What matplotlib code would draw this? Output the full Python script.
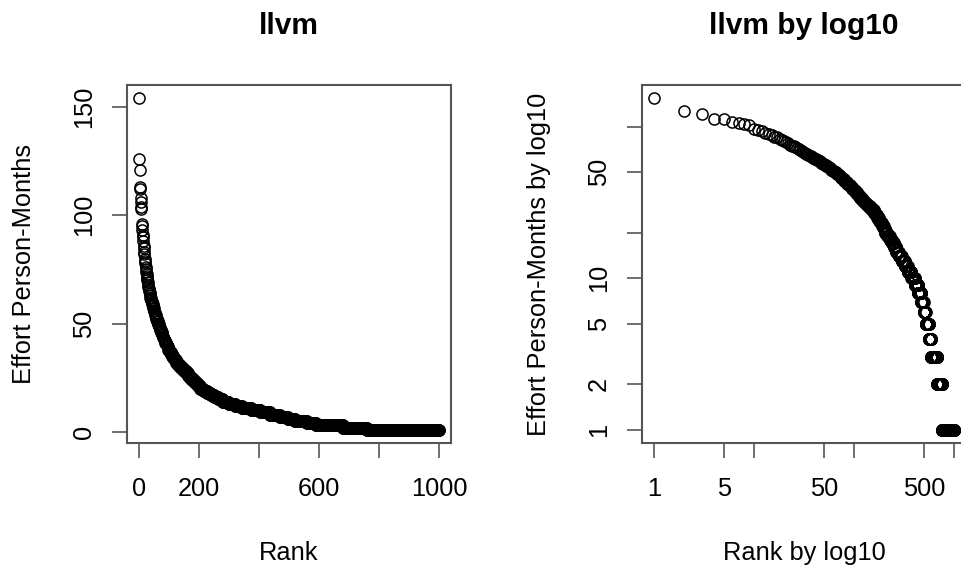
import numpy as np
import matplotlib
matplotlib.use("Agg")
import matplotlib.pyplot as plt

plt.rcParams['font.family'] = ['Liberation Sans', 'DejaVu Sans']

# effort values (person-months), descending, stored as value / how many projects have it
effort_values = [154, 126, 121, 113, 112, 108, 106, 104, 103,
                 96, 95, 93, 91, 90,
                 88, 86, 85, 83, 82,
                 80, 79, 78, 76, 75, 74, 73, 72, 71, 70,
                 69, 68, 67, 66, 65, 64, 63, 62, 61, 60, 59,
                 58, 57, 56, 55, 54, 53, 52, 51, 50, 49,
                 48, 47, 46, 45, 44, 43, 42, 41,
                 40, 39, 38, 37, 36, 35, 34,
                 33, 32, 31, 30, 29, 28,
                 27, 26, 25, 24, 23, 22, 21,
                 20, 19, 18, 17, 16, 15, 14, 13, 12, 11, 10,
                 9, 8, 7, 6, 5, 4, 3, 2, 1]
effort_counts = [1, 1, 1, 1, 1, 1, 1, 1, 1,
                 1, 1, 1, 1, 1,
                 1, 1, 1, 1, 1,
                 1, 1, 1, 1, 1, 1, 1, 1, 1, 1,
                 1, 1, 1, 2, 1, 2, 1, 2, 2, 2, 2,
                 2, 2, 2, 2, 2, 2, 2, 3, 3, 3,
                 2, 2, 3, 3, 3, 3, 3, 4,
                 3, 3, 4, 4, 4, 4, 5,
                 5, 6, 6, 7, 7, 8,
                 6, 6, 7, 7, 7, 7, 6,
                 11, 12, 12, 12, 13, 15, 20, 22, 22, 31, 30,
                 32, 33, 27, 23, 40, 30, 90, 80, 241]

left_xticks = [0, 200, 400, 600, 800, 1000]
left_xlabels = ['0', '200', '', '600', '', '1000']
left_yticks = [0, 50, 100, 150]
right_xticks = [1, 5, 10, 50, 100, 500, 1000]
right_xlabels = ['1', '5', '', '50', '', '500', '']
right_yticks = [1, 2, 5, 10, 20, 50, 100]
right_ylabels = ['1', '2', '5', '10', '', '50', '']

effort = np.repeat(effort_values, effort_counts)
rank = np.arange(1, len(effort) + 1)

W, H = 961, 570
fig = plt.figure(figsize=(W / 100, H / 100), dpi=100)

box_col = '#555555'
fs = 18.3


def style_axes(ax):
    for s in ax.spines.values():
        s.set_color(box_col)
        s.set_linewidth(1.5)
    ax.tick_params(direction='out', length=10.5, width=1.2, color=box_col,
                   labelsize=fs)
    ax.tick_params(axis='x', pad=14)
    ax.tick_params(axis='y', pad=12)
    for lab in ax.get_yticklabels():
        lab.set_rotation(90)
        lab.set_va('center')


def draw_points(ax):
    ax.plot(rank, effort, linestyle='none', marker='o', markersize=8,
            markerfacecolor='none', markeredgecolor='black', markeredgewidth=1.1)


# left panel: plain scale
ax1 = fig.add_axes([127 / W, 1 - 443 / H, 324 / W, 358 / H])
draw_points(ax1)
pad_x = 0.04 * (rank.max() - rank.min())
pad_y = 0.04 * (effort.max() - effort.min())
ax1.set_xlim(rank.min() - pad_x, rank.max() + pad_x)
ax1.set_ylim(effort.min() - pad_y, effort.max() + pad_y)
ax1.set_xticks(left_xticks)
ax1.set_xticklabels(left_xlabels)
ax1.set_yticks(left_yticks)
ax1.set_yticklabels([str(t) for t in left_yticks])
style_axes(ax1)
ax1.set_title('llvm', fontsize=21.5, fontweight='bold', pad=37)
ax1.set_xlabel('Rank', fontsize=fs, labelpad=29)
ax1.set_ylabel('Effort Person-Months', fontsize=fs, labelpad=26)

# right panel: log10 on both axes
ax2 = fig.add_axes([642 / W, 1 - 443 / H, 324 / W, 358 / H])
draw_points(ax2)
ax2.set_xscale('log')
ax2.set_yscale('log')
lx = np.log10([rank.min(), rank.max()])
ly = np.log10([effort.min(), effort.max()])
ax2.set_xlim(10 ** (lx[0] - 0.04 * (lx[1] - lx[0])), 10 ** (lx[1] + 0.04 * (lx[1] - lx[0])))
ax2.set_ylim(10 ** (ly[0] - 0.04 * (ly[1] - ly[0])), 10 ** (ly[1] + 0.04 * (ly[1] - ly[0])))
ax2.set_xticks(right_xticks)
ax2.set_xticklabels(right_xlabels)
ax2.set_yticks(right_yticks)
ax2.set_yticklabels(right_ylabels)
ax2.minorticks_off()
style_axes(ax2)
ax2.set_title('llvm by log10', fontsize=21.5, fontweight='bold', pad=37)
ax2.set_xlabel('Rank by log10', fontsize=fs, labelpad=29)
ax2.set_ylabel('Effort Person-Months by log10', fontsize=fs, labelpad=26)

fig.savefig('out.png', dpi=100)
